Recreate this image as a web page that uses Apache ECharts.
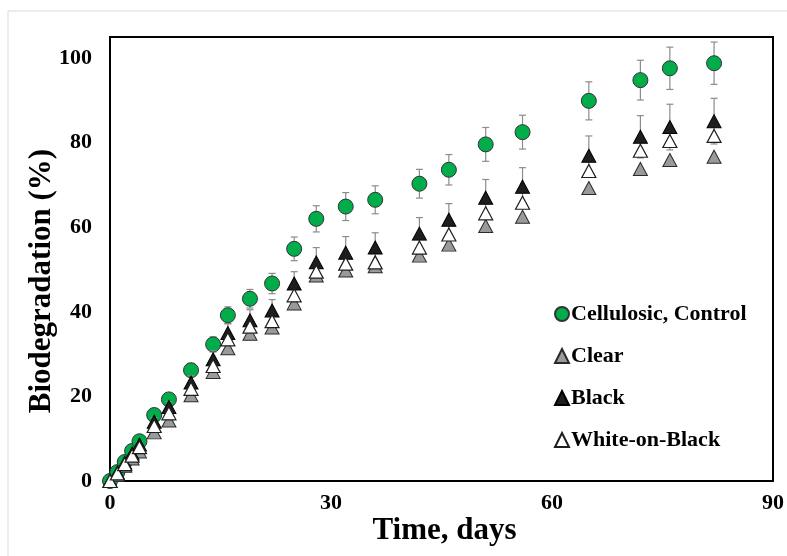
<!DOCTYPE html>
<html>
<head>
<meta charset="utf-8">
<script src="https://cdn.jsdelivr.net/npm/echarts@6/dist/echarts.min.js"></script>
<style>
  html, body { margin: 0; padding: 0; background: #fff; }
  #chart { width: 787px; height: 556px; }
</style>
</head>
<body>
<div id="chart"></div>
<script>
// Sampling days
const days = [0, 1, 2, 3, 4, 6, 8, 11, 14, 16, 19, 22, 25, 28, 32, 36, 42, 46, 51, 56, 65, 72, 76, 82];

// Biodegradation (%) per material
const cellulosic = [0, 2.1, 4.5, 7.1, 9.4, 15.6, 19.3, 26.2, 32.3, 39.2, 43.1, 46.7, 54.9, 62.0, 64.9, 66.5, 70.3, 73.6, 79.6, 82.5, 89.9, 94.8, 97.6, 98.8];
const cellulosicErr = [0, 0.5, 0.6, 0.7, 0.8, 1.0, 1.2, 1.5, 1.8, 2.0, 2.2, 2.4, 2.8, 3.1, 3.3, 3.3, 3.4, 3.6, 4.0, 4.0, 4.5, 4.7, 5.0, 5.0];
const clear = [0, 1.5, 3.6, 5.3, 7.0, 11.5, 14.3, 20.3, 25.8, 31.4, 34.8, 36.3, 42.0, 48.6, 49.8, 50.8, 53.3, 55.9, 60.3, 62.5, 69.3, 73.8, 75.9, 76.7];
const black = [0, 2.0, 4.3, 6.5, 8.6, 14.0, 17.5, 23.3, 28.8, 35.0, 38.0, 40.3, 46.7, 51.7, 54.0, 55.2, 58.5, 61.8, 67.0, 69.6, 76.9, 81.4, 83.7, 85.1];
const blackErr = [0, 0.4, 0.5, 0.6, 0.7, 1.0, 1.2, 1.6, 2.0, 2.2, 2.5, 2.6, 2.8, 3.5, 3.8, 3.5, 3.8, 3.8, 4.3, 4.5, 4.7, 5.0, 5.4, 5.4];
const whiteOnBlack = [0, 1.8, 4.0, 6.0, 8.0, 13.0, 16.0, 21.8, 27.2, 33.5, 36.5, 37.8, 43.9, 49.5, 51.4, 51.7, 55.2, 58.3, 63.3, 65.8, 73.3, 78.1, 80.4, 81.6];

// Axis ticks
const xTicks = { min: 0, max: 90, interval: 30 };
const yTicks = { min: 0, max: 105, interval: 20 };

const serif = '"Liberation Serif", "DejaVu Serif", serif';

function pairs(vals) { return days.map((d, i) => [d, vals[i]]); }
function errPairs(vals, errs) { return days.map((d, i) => [d, vals[i], errs[i]]); }

// Vertical error bar with short caps
function errorBar(params, api) {
  const x = api.value(0), y = api.value(1), e = api.value(2);
  if (!e) return null;
  const hi = api.coord([x, y + e]);
  const lo = api.coord([x, y - e]);
  const cap = 3.5;
  const style = { stroke: '#8c8c8c', lineWidth: 1.2 };
  return {
    type: 'group',
    children: [
      { type: 'line', shape: { x1: hi[0], y1: hi[1], x2: lo[0], y2: lo[1] }, style },
      { type: 'line', shape: { x1: hi[0] - cap, y1: hi[1], x2: hi[0] + cap, y2: hi[1] }, style },
      { type: 'line', shape: { x1: lo[0] - cap, y1: lo[1], x2: lo[0] + cap, y2: lo[1] }, style }
    ]
  };
}

const chart = echarts.init(document.getElementById('chart'), null, { renderer: 'canvas' });

chart.setOption({
  animation: false,
  backgroundColor: '#ffffff',
  graphic: [{
    type: 'rect',
    shape: { x: 8, y: 11, width: 900, height: 900 },
    style: { fill: 'none', stroke: '#d9d9d9', lineWidth: 1 },
    silent: true,
    z: -10
  }],
  grid: {
    left: 110, right: 14, top: 37, bottom: 75,
    show: true, borderColor: '#000', borderWidth: 2, backgroundColor: 'transparent'
  },
  legend: {
    orient: 'vertical',
    left: 549,
    top: 298,
    itemGap: 20,
    itemWidth: 14,
    itemHeight: 14,
    textStyle: { fontFamily: serif, fontWeight: 'bold', fontSize: 22, color: '#000', padding: [0, 0, 0, -3] },
    data: ['Cellulosic, Control', 'Clear', 'Black', 'White-on-Black']
  },
  xAxis: {
    type: 'value',
    min: xTicks.min, max: xTicks.max, interval: xTicks.interval,
    name: 'Time, days',
    nameLocation: 'middle',
    nameGap: 34,
    nameMoveOverlap: false,
    nameTextStyle: { fontFamily: serif, fontWeight: 'bold', fontSize: 31, color: '#000', padding: [0, 0, 0, 6] },
    axisLine: { show: true, lineStyle: { color: '#000', width: 2 } },
    axisTick: { show: false },
    splitLine: { show: false },
    axisLabel: { fontFamily: serif, fontWeight: 'bold', fontSize: 22, color: '#000', margin: 11 }
  },
  yAxis: {
    type: 'value',
    min: yTicks.min, max: yTicks.max, interval: yTicks.interval,
    name: 'Biodegradation (%)',
    nameLocation: 'middle',
    nameGap: 53,
    nameMoveOverlap: false,
    nameTextStyle: { fontFamily: serif, fontWeight: 'bold', fontSize: 31, color: '#000', padding: [0, 44, 0, 0] },
    axisLine: { show: true, lineStyle: { color: '#000', width: 2 } },
    axisTick: { show: false },
    splitLine: { show: false },
    axisLabel: {
      fontFamily: serif, fontWeight: 'bold', fontSize: 22, color: '#000', margin: 18,
      formatter: v => (v % 20 === 0 ? String(v) : '')
    }
  },
  series: [
    {
      name: 'cellulosic-err', type: 'custom', renderItem: errorBar,
      data: errPairs(cellulosic, cellulosicErr), z: 1, silent: true
    },
    {
      name: 'Cellulosic, Control', type: 'scatter', data: pairs(cellulosic),
      symbol: 'circle', symbolSize: 15, z: 2,
      itemStyle: { color: '#00ad4a', borderColor: '#333', borderWidth: 1, opacity: 1 }
    },
    {
      name: 'Clear', type: 'scatter', data: pairs(clear),
      symbol: 'triangle', symbolSize: [14, 13], z: 3,
      itemStyle: { color: '#9a9a9a', borderColor: '#2a2a2a', borderWidth: 1, opacity: 1 }
    },
    {
      name: 'black-err', type: 'custom', renderItem: errorBar,
      data: errPairs(black, blackErr), z: 3, silent: true
    },
    {
      name: 'Black', type: 'scatter', data: pairs(black),
      symbol: 'triangle', symbolSize: [14, 13], z: 4,
      itemStyle: { color: '#1e1e1e', borderColor: '#000', borderWidth: 1, opacity: 1 }
    },
    {
      name: 'White-on-Black', type: 'scatter', data: pairs(whiteOnBlack),
      symbol: 'triangle', symbolSize: [14, 13], z: 5,
      itemStyle: { color: '#ffffff', borderColor: '#1e1e1e', borderWidth: 1.2, opacity: 1 }
    }
  ]
});
</script>
</body>
</html>
